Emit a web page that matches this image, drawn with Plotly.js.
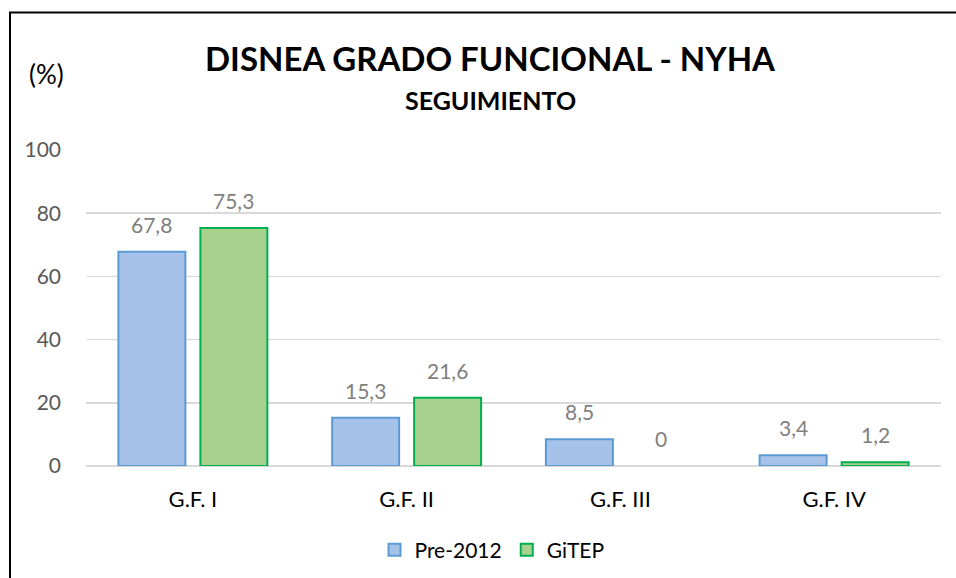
<!DOCTYPE html>
<html>
<head>
<meta charset="utf-8">
<script src="https://cdn.plot.ly/plotly-3.0.1.min.js"></script>
<style>body{margin:0;padding:0;background:#fff;}#chart{width:956px;height:578px;}</style>
</head>
<body>
<div id="chart"></div>
<script>
var categories = ["G.F. I", "G.F. II", "G.F. III", "G.F. IV"];
var pre2012 = [67.8, 15.3, 8.5, 3.4];
var gitep = [75.3, 21.6, 0, 1.2];
var seriesNames = ["Pre-2012", "GiTEP"];
var yTicks = [0, 20, 40, 60, 80, 100];

var FONT = "Lato, 'Open Sans', sans-serif";
var W = 956, H = 578;
var mL = 86, mR = 15, mT = 150, mB = 112;
var bargap = 0.233, bargroupgap = 0.183;
var plotW = W - mL - mR, plotH = H - mT - mB;
var catW = plotW / categories.length;
var slot = (1 - bargap) * catW / 2;

function fmt(v) { return String(v).replace('.', ','); }
function lineWidths(arr) { return arr.map(function (v) { return v === 0 ? 0 : 2; }); }

var traces = [
  {
    type: 'bar', name: seriesNames[0], x: categories, y: pre2012,
    marker: { color: '#a6c2e8', line: { color: '#5b9bd5', width: lineWidths(pre2012) } },
    hoverinfo: 'none'
  },
  {
    type: 'bar', name: seriesNames[1], x: categories, y: gitep,
    marker: { color: '#a9d18e', line: { color: '#00b050', width: lineWidths(gitep) } },
    hoverinfo: 'none'
  }
];

var annotations = [];
[pre2012, gitep].forEach(function (arr, si) {
  arr.forEach(function (v, i) {
    annotations.push({
      xref: 'x', yref: 'y', x: categories[i], y: v,
      text: fmt(v), showarrow: false, yanchor: 'bottom',
      xshift: (si === 0 ? -1 : 1) * slot / 2, yshift: 13,
      font: { family: FONT, size: 21, color: '#7f7f7f' }
    });
  });
});

function px2x(px) { return (px - mL) / plotW; }
function px2y(py) { return (H - mB - py) / plotH; }

annotations.push({
  xref: 'paper', yref: 'paper', x: px2x(490), y: px2y(58),
  text: '<b>DISNEA GRADO FUNCIONAL - NYHA</b>', showarrow: false,
  xanchor: 'center', yanchor: 'middle',
  font: { family: FONT, size: 33, color: '#000' }
});
annotations.push({
  xref: 'paper', yref: 'paper', x: px2x(490), y: px2y(100),
  text: '<b>SEGUIMIENTO</b>', showarrow: false,
  xanchor: 'center', yanchor: 'middle',
  font: { family: FONT, size: 25, color: '#000' }
});
annotations.push({
  xref: 'paper', yref: 'paper', x: px2x(27), y: px2y(74),
  text: '(%)', showarrow: false,
  xanchor: 'left', yanchor: 'middle',
  font: { family: FONT, size: 26, color: '#000' }
});

var layout = {
  width: W, height: H,
  margin: { l: mL, r: mR, t: mT, b: mB, pad: 0, autoexpand: false },
  paper_bgcolor: '#fff', plot_bgcolor: '#fff',
  separators: ',.',
  barmode: 'group', bargap: bargap, bargroupgap: bargroupgap,
  showlegend: true,
  legend: {
    orientation: 'h', xref: 'container', yref: 'container',
    x: 492 / W, y: 1 - 550 / H, xanchor: 'center', yanchor: 'middle',
    font: { family: FONT, size: 21, color: '#000' }, itemwidth: 30, tracegroupgap: 0
  },
  xaxis: {
    type: 'category', showgrid: false, zeroline: false, showline: false, ticks: '',
    ticklabelstandoff: 18, automargin: false,
    tickfont: { family: FONT, size: 22, color: '#000' }, fixedrange: true
  },
  yaxis: {
    range: [0, 100], tickvals: yTicks, ticktext: yTicks.map(String),
    showgrid: true, gridcolor: '#d9d9d9', gridwidth: 1.5,
    zeroline: true, zerolinecolor: '#d9d9d9', zerolinewidth: 1.5,
    showline: false, ticks: '', ticklabelstandoff: 24, automargin: false,
    tickfont: { family: FONT, size: 21, color: '#595959' }, fixedrange: true
  },
  annotations: annotations,
  shapes: [{
    type: 'rect', xref: 'paper', yref: 'paper',
    x0: px2x(10), x1: px2x(W + 20), y0: px2y(H + 20), y1: px2y(12.5),
    line: { color: '#000', width: 2 }, fillcolor: 'rgba(0,0,0,0)', layer: 'above'
  }]
};

Plotly.newPlot('chart', traces, layout, { staticPlot: true, displayModeBar: false });
</script>
</body>
</html>
